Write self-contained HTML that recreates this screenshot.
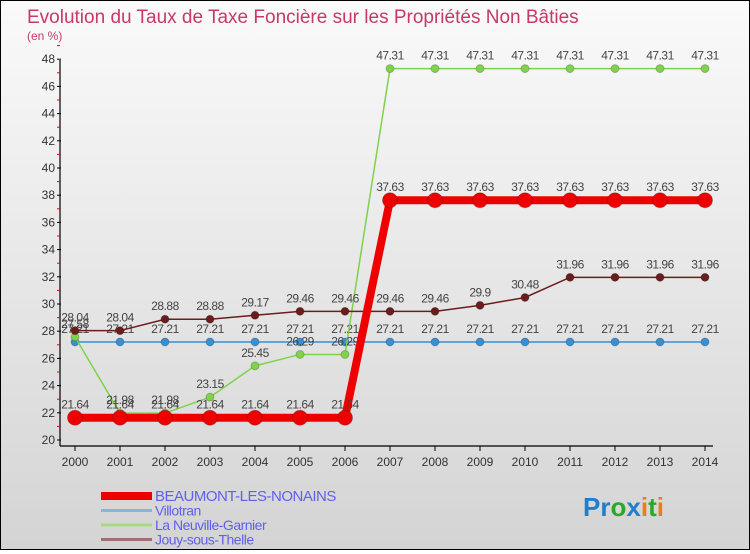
<!DOCTYPE html>
<html><head><meta charset="utf-8"><style>
html,body{margin:0;padding:0}
body{width:750px;height:550px;overflow:hidden;font-family:"Liberation Sans",sans-serif}
#wrap{position:relative;width:748px;height:548px;border:1px solid #000;background:linear-gradient(#fafafa,#d4d4d4)}
</style></head><body>
<div id="wrap">
<svg id="chart" width="748" height="548"></svg>
</div>
<script>
const years=[2000,2001,2002,2003,2004,2005,2006,2007,2008,2009,2010,2011,2012,2013,2014];
const beaumont=[21.64,21.64,21.64,21.64,21.64,21.64,21.64,37.63,37.63,37.63,37.63,37.63,37.63,37.63,37.63];
const villotran=[27.21,27.21,27.21,27.21,27.21,27.21,27.21,27.21,27.21,27.21,27.21,27.21,27.21,27.21,27.21];
const neuville=[27.58,21.98,21.98,23.15,25.45,26.29,26.29,47.31,47.31,47.31,47.31,47.31,47.31,47.31,47.31];
const jouy=[28.04,28.04,28.88,28.88,29.17,29.46,29.46,29.46,29.46,29.9,30.48,31.96,31.96,31.96,31.96];
const yTicks=[20,22,24,26,28,30,32,34,36,38,40,42,44,46,48];
const seriesNames=["BEAUMONT-LES-NONAINS","Villotran","La Neuville-Garnier","Jouy-sous-Thelle"];
const NS="http://www.w3.org/2000/svg";
const svg=document.getElementById('chart');
const x=i=>74+i*45;
const y=v=>439-(v-20)*13.6;
function el(t,a,txt){const e=document.createElementNS(NS,t);for(const k in a)e.setAttribute(k,a[k]);if(txt!==undefined)e.textContent=txt;svg.appendChild(e);return e;}
let t=el('text',{x:26,y:22,'font-size':19,fill:'#c8386a'},'Evolution du Taux de Taxe Foncière sur les Propriétés Non Bâties');

t=el('text',{x:26,y:39,'font-size':12,fill:'#c8386a'},'(en %)');

let a=el('line',{x1:59,y1:59,x2:59,y2:445,stroke:'#000','stroke-width':1.2});

a=el('line',{x1:59,y1:445,x2:712,y2:445,stroke:'#000','stroke-width':1.2});

yTicks.forEach(v=>{
 el('line',{x1:56,y1:y(v),x2:60,y2:y(v),stroke:'#000'});
 el('line',{x1:56,y1:y(v+1),x2:59,y2:y(v+1),stroke:'#e00'});
 const l=el('text',{x:54,y:y(v)+4,'font-size':12,fill:'#333','text-anchor':'end'},v);
 
});
years.forEach((yr,i)=>{
 el('line',{x1:x(i),y1:445,x2:x(i),y2:450,stroke:'#000'});
 const l=el('text',{x:x(i),y:465,'font-size':12,fill:'#333','text-anchor':'middle'},yr);
 
});
function series(data,color,w,r,name){
 const p=el('polyline',{points:data.map((v,i)=>x(i)+','+y(v)).join(' '),fill:'none',stroke:color,'stroke-width':w});
 
 data.forEach((v,i)=>{
  const c=el('circle',{cx:x(i),cy:y(v),r:r,fill:color,stroke:'rgba(0,0,0,0.2)'});
  
  const l=el('text',{x:x(i),y:y(v)-9,'font-size':12,fill:'#444','text-anchor':'middle','letter-spacing':'-0.5'},v);
  
 });
}
series(villotran,'#3a8fd0',1.5,4,'villotran');
series(neuville,'#7fd24a',1.5,4,'neuville');
series(jouy,'#6b1c1c',1.5,4,'jouy');
series(beaumont,'#ee0000',8,7.5,'beaumont');
const lc=['#ee0000','#88b4d8','#a8d880','#a07070'],lw=[8,3,3,3];
seriesNames.forEach((n,i)=>{
 const yy=495+i*14.5;
 const ln=el('line',{x1:100,y1:yy,x2:151,y2:yy,stroke:lc[i],'stroke-width':lw[i]});
 
 const l=el('text',{x:154,y:yy+5,'font-size':i==0?15:14,fill:'#6060ee','letter-spacing':'-0.5'},n);
 
});
const logo=el('text',{x:582,y:515,'font-size':26,'font-weight':'bold'},'');

[['P','#1e7fd0'],['r','#1e7fd0'],['o','#2aa82a'],['x','#1e7fd0'],['i','#f07d10'],['t','#2aa82a'],['i','#f07d10']].forEach(([c,f])=>{const s=document.createElementNS(NS,'tspan');s.setAttribute('fill',f);s.textContent=c;logo.appendChild(s);});
</script>
</body></html>
